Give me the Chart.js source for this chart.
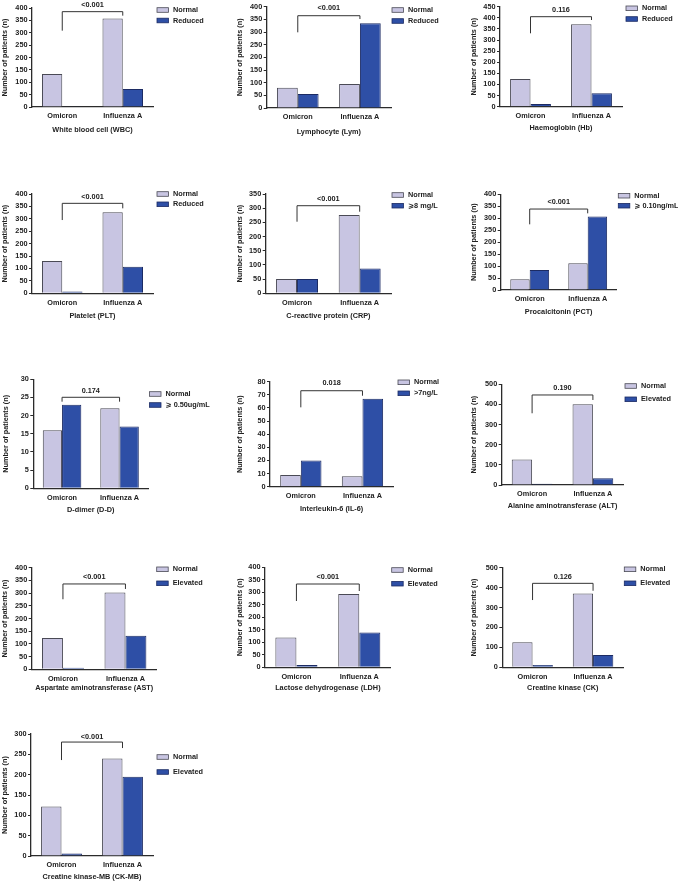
<!DOCTYPE html>
<html><head><meta charset="utf-8">
<script src="https://cdn.jsdelivr.net/npm/chart.js@4.4.1/dist/chart.umd.min.js"></script>
<style>
html,body{margin:0;padding:0;background:#fff;width:678px;height:885px;overflow:hidden;position:relative}
canvas{position:absolute}
</style></head><body>
<script>
// ---------- data ----------
const categories = ['Omicron', 'Influenza A'];
const panelTitles = ['White blood cell (WBC)', 'Lymphocyte (Lym)', 'Haemoglobin (Hb)', 'Platelet (PLT)',
  'C-reactive protein (CRP)', 'Procalcitonin (PCT)', 'D-dimer (D-D)', 'Interleukin-6 (IL-6)',
  'Alanine aminotransferase (ALT)', 'Aspartate aminotransferase (AST)', 'Lactose dehydrogenase (LDH)',
  'Creatine kinase (CK)', 'Creatine kinase-MB (CK-MB)'];
const yAxisTitle = 'Number of patients (n)';
const normalLabel = 'Normal';
const abnormalLabels = ['Reduced', 'Reduced', 'Reduced', 'Reduced', '⩾8 mg/L', '⩾ 0.10ng/mL', '⩾ 0.50ug/mL',
  '>7ng/L', 'Elevated', 'Elevated', 'Elevated', 'Elevated', 'Elevated'];
const normalOmicron   = [133, 80, 125, 130, 50, 45, 16, 9, 127, 123, 119, 126, 122];
const normalFluA      = [358, 95, 371, 326, 276, 112, 22, 8, 401, 302, 293, 371, 240];
const abnormalOmicron = [3, 55, 12, 7, 50, 84, 23, 20, 6, 6, 9, 12, 6];
const abnormalFluA    = [73, 335, 60, 107, 87, 307, 17, 67, 33, 132, 139, 62, 195];
const pValues = ['<0.001', '<0.001', '0.116', '<0.001', '<0.001', '<0.001', '0.174', '0.018', '0.190',
  '<0.001', '<0.001', '0.126', '<0.001'];
const axisMax  = [400, 400, 450, 400, 350, 400, 30, 80, 500, 400, 400, 500, 300];
const axisStep = [50, 50, 50, 50, 50, 50, 5, 10, 100, 50, 50, 100, 50];

// ---------- layout (page pixels) ----------
const geo = [
  {ax:32,    top:8,     bottom:107,   right:153,   lx:157,   ly:[10,20.5],    xt:130,   yt:5.5, br:[0.963,19,4],     pOff:6.7},
  {ax:266.7, top:6.7,   bottom:108,   right:391,   lx:392,   ly:[10,21],      xt:132,   yt:240, br:[0.911,16.6,3.3], pOff:7.4},
  {ax:500,   top:6.7,   bottom:106.7, right:622,   lx:626,   ly:[8.3,19],     xt:128,   yt:474, br:[0.90,16.6,3.3],  pOff:6.7},
  {ax:32,    top:194,   bottom:293.3, right:153,   lx:157,   ly:[194,204.3],  xt:315.7, yt:5.5, br:[0.906,16.7,5],   pOff:6.6},
  {ax:265.7, top:194,   bottom:293.3, right:391,   lx:392,   ly:[195,205.7],  xt:315.7, yt:240, br:[0.882,16,6],     pOff:6.4},
  {ax:500.7, top:194.3, bottom:290,   right:616.7, lx:618.3, ly:[195.7,205.7],xt:311.7, yt:474, br:[0.846,15.3,4.3], pOff:6.7},
  {ax:33.3,  top:379.3, bottom:488.3, right:148.3, lx:149.5, ly:[394,405],    xt:510,   yt:6,   br:[0.835,4.4,4.4],  pOff:6.3},
  {ax:270,   top:381.7, bottom:486.7, right:393.3, lx:398,   ly:[382.3,393.3],xt:509,   yt:240, br:[0.914,16.6,5],   pOff:7.4},
  {ax:501.7, top:384.3, bottom:485,   right:623.3, lx:625,   ly:[386,399.3],  xt:506,   yt:474, br:[0.894,18.3,5],   pOff:6.7},
  {ax:31.7,  top:567.7, bottom:669.3, right:156.7, lx:156.7, ly:[569.3,583.3],xt:688,   yt:5.5, br:[0.84,15.3,5],    pOff:7.3},
  {ax:265,   top:567.3, bottom:667.3, right:390.7, lx:391.7, ly:[570,583.7],  xt:688,   yt:240, br:[0.833,17,7],     pOff:7.3},
  {ax:502.3, top:567.7, bottom:667.3, right:623.3, lx:624.3, ly:[569.3,583.3],xt:688,   yt:474, br:[0.843,16.7,7.4], pOff:6.6},
  {ax:31,    top:734,   bottom:856,   right:153,   lx:157,   ly:[757,772],    xt:877,   yt:5.5, br:[0.934,18,6],     pOff:5}
];

// ---------- styles ----------
const FAMILY = "'Liberation Sans', Arial, 'DejaVu Sans', sans-serif";
const FSIZE = 7.3;
const F = {family: FAMILY, size: FSIZE, weight: 'bold'};
const FONT = 'bold ' + FSIZE + 'px ' + FAMILY;
const HALF = FSIZE * 1.2 / 2;
const TXT = '#222';
const AX = '#2b2b2b';
const NORMAL_FILL = '#c8c5e2', NORMAL_EDGE = '#4a4a55';
const ABN_FILL = '#2e4fa6', ABN_EDGE = '#1c2b63';
const PR = 80, PT = 16;

function makeDecor(g, i, CL, CT) {
  return {
    id: 'decor' + i,
    afterDatasetsDraw(chart) {
      const ctx = chart.ctx, xs = chart.scales.x, ys = chart.scales.y;
      const xL = xs.getPixelForValue(0), xR = xs.getPixelForValue(1);
      const yTop = ys.getPixelForValue(ys.max * g.br[0]);
      ctx.save();
      ctx.strokeStyle = '#333'; ctx.lineWidth = 1;
      ctx.beginPath();
      ctx.moveTo(xL, yTop + g.br[1]); ctx.lineTo(xL, yTop); ctx.lineTo(xR, yTop); ctx.lineTo(xR, yTop + g.br[2]);
      ctx.stroke();
      ctx.font = FONT; ctx.fillStyle = TXT; ctx.textAlign = 'center'; ctx.textBaseline = 'middle';
      ctx.fillText(pValues[i], (xL + xR) / 2, yTop - g.pOff);
      chart.data.datasets.forEach((ds, k) => {
        const bx = g.lx - CL, by = g.ly[k] - CT;
        ctx.fillStyle = ds.backgroundColor; ctx.fillRect(bx, by - 2.3, 11.5, 4.6);
        ctx.strokeStyle = ds.borderColor; ctx.lineWidth = 0.8; ctx.strokeRect(bx, by - 2.3, 11.5, 4.6);
        ctx.fillStyle = TXT; ctx.textAlign = 'left'; ctx.textBaseline = 'middle';
        ctx.fillText(ds.label, bx + 16, by);
      });
      ctx.restore();
    }
  };
}

geo.forEach((g, i) => {
  const CL = Math.round(g.yt - HALF);
  const CT = Math.round(g.top - PT);
  const yW = g.ax - CL;
  const padTop = g.top - CT;
  const xH = g.xt + HALF - g.bottom;
  const CH = Math.ceil(g.bottom - CT + xH + 1);
  const padBottom = CH - (g.bottom - CT) - xH;
  const CW = Math.ceil(g.right - CL + PR);
  const padRight = CW - (g.right - CL);
  const cv = document.createElement('canvas');
  cv.width = CW; cv.height = CH;
  cv.style.left = CL + 'px'; cv.style.top = CT + 'px';
  cv.style.width = CW + 'px'; cv.style.height = CH + 'px';
  document.body.appendChild(cv);
  new Chart(cv, {
    type: 'bar',
    data: {
      labels: categories,
      datasets: [
        {label: normalLabel, data: [normalOmicron[i], normalFluA[i]], backgroundColor: NORMAL_FILL,
         borderColor: NORMAL_EDGE, borderWidth: 1, categoryPercentage: 0.67, barPercentage: 1},
        {label: abnormalLabels[i], data: [abnormalOmicron[i], abnormalFluA[i]], backgroundColor: ABN_FILL,
         borderColor: ABN_EDGE, borderWidth: 1, categoryPercentage: 0.67, barPercentage: 1}
      ]
    },
    options: {
      responsive: false, animation: false, devicePixelRatio: 1,
      layout: {padding: {left: 0, top: padTop, right: padRight, bottom: padBottom}},
      plugins: {legend: {display: false}, tooltip: {enabled: false}},
      scales: {
        x: {
          grid: {display: false, drawTicks: false, tickLength: 0},
          border: {display: true, color: AX, width: 1.3},
          ticks: {color: TXT, font: F, padding: 5, maxRotation: 0, autoSkip: false},
          title: {display: true, text: panelTitles[i], color: TXT, font: F, padding: 0},
          afterFit(s) { s.height = xH; }
        },
        y: {
          min: 0, max: axisMax[i],
          ticks: {stepSize: axisStep[i], color: TXT, font: F, padding: 1.5, autoSkip: false},
          grid: {display: true, drawOnChartArea: false, drawTicks: true, tickLength: 3, color: AX, lineWidth: 1},
          border: {display: true, color: AX, width: 1.3},
          title: {display: true, text: yAxisTitle, color: TXT, font: F, padding: 0},
          afterFit(s) { s.width = yW; }
        }
      }
    },
    plugins: [makeDecor(g, i, CL, CT)]
  });
});
</script>
</body></html>
